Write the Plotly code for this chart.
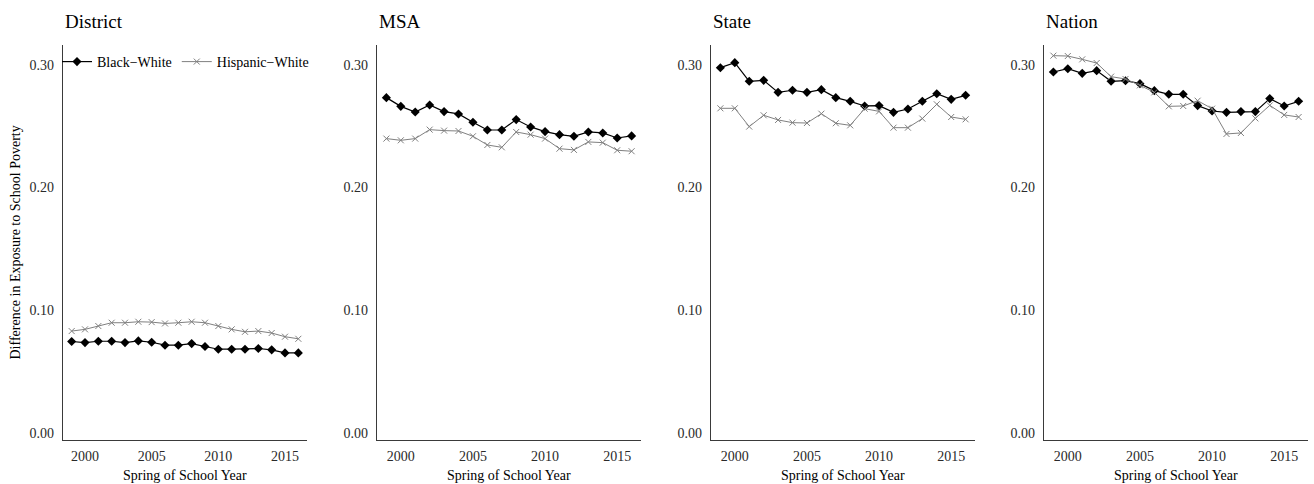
import plotly.graph_objects as go

years = list(range(1999, 2017))
panels = ["District", "MSA", "State", "Nation"]

district_black = [0.0743, 0.0734, 0.0745, 0.0745, 0.0734, 0.0748, 0.0737, 0.0713, 0.0713, 0.0726,
                  0.0702, 0.0680, 0.0680, 0.0680, 0.0686, 0.0675, 0.0650, 0.0650]
district_hisp = [0.0828, 0.0842, 0.0869, 0.0896, 0.0896, 0.0904, 0.0901, 0.0890, 0.0896, 0.0904,
                 0.0896, 0.0869, 0.0842, 0.0822, 0.0828, 0.0812, 0.0782, 0.0765]

msa_black = [0.2731, 0.2660, 0.2614, 0.2671, 0.2617, 0.2598, 0.2530, 0.2467, 0.2467, 0.2552,
             0.2492, 0.2454, 0.2429, 0.2416, 0.2451, 0.2443, 0.2402, 0.2419]
msa_hisp = [0.2397, 0.2383, 0.2397, 0.2470, 0.2462, 0.2459, 0.2416, 0.2345, 0.2326, 0.2451,
            0.2429, 0.2397, 0.2315, 0.2305, 0.2370, 0.2364, 0.2302, 0.2294]

state_black = [0.2975, 0.3016, 0.2864, 0.2872, 0.2774, 0.2791, 0.2774, 0.2796, 0.2731, 0.2701,
               0.2663, 0.2666, 0.2611, 0.2638, 0.2701, 0.2763, 0.2717, 0.2750]
state_hisp = [0.2644, 0.2644, 0.2495, 0.2587, 0.2549, 0.2527, 0.2524, 0.2600, 0.2522, 0.2505,
              0.2641, 0.2619, 0.2486, 0.2486, 0.2560, 0.2677, 0.2573, 0.2554]

nation_black = [0.2940, 0.2967, 0.2929, 0.2951, 0.2864, 0.2869, 0.2845, 0.2788, 0.2758, 0.2758,
                0.2666, 0.2622, 0.2611, 0.2617, 0.2617, 0.2723, 0.2663, 0.2701]
nation_hisp = [0.3073, 0.3070, 0.3043, 0.3013, 0.2902, 0.2883, 0.2831, 0.2774, 0.2660, 0.2663,
               0.2706, 0.2641, 0.2435, 0.2443, 0.2562, 0.2668, 0.2590, 0.2573]

black_series = [district_black, msa_black, state_black, nation_black]
hisp_series = [district_hisp, msa_hisp, state_hisp, nation_hisp]

y_ticks = [0.0, 0.1, 0.2, 0.3]
y_tick_text = ["0.00", "0.10", "0.20", "0.30"]
x_ticks = [2000, 2005, 2010, 2015]

W, H = 1314, 484
FONT = "Liberation Serif, Times New Roman, serif"

# subplot rectangles in pixels: (left, right)
panel_px = [(63, 307), (377, 641), (711, 975), (1044, 1308)]
top_px, bottom_px = 45, 440

fig = go.Figure()

for i, name in enumerate(panels):
    suffix = "" if i == 0 else str(i + 1)
    fig.add_trace(go.Scatter(
        x=years, y=black_series[i], mode="lines+markers", name="Black\u2212White",
        line=dict(color="black", width=1.2),
        marker=dict(symbol="diamond", size=7, color="black"),
        xaxis="x" + suffix, yaxis="y" + suffix, showlegend=(i == 0),
    ))
    fig.add_trace(go.Scatter(
        x=years, y=hisp_series[i], mode="lines+markers", name="Hispanic\u2212White",
        line=dict(color="#808080", width=1),
        marker=dict(symbol="x-thin", size=6, color="#808080", line=dict(width=1, color="#808080")),
        xaxis="x" + suffix, yaxis="y" + suffix, showlegend=(i == 0),
    ))

    l, r = panel_px[i]
    axis_common = dict(showgrid=False, zeroline=False, showline=True, linecolor="#3a3a3a",
                       linewidth=1.2, ticks="", tickfont=dict(family=FONT, size=14, color="#2a2a2a"))
    fig.layout["xaxis" + suffix] = dict(
        domain=[l / W, r / W], range=[1998.35, 2016.65], tickvals=x_ticks,
        anchor="y" + suffix, automargin=False, ticklabelstandoff=3, **axis_common)
    fig.layout["yaxis" + suffix] = dict(
        domain=[1 - bottom_px / H, 1 - top_px / H], range=[-0.006, 0.316],
        tickvals=y_ticks, ticktext=y_tick_text, ticklabelstandoff=5,
        anchor="x" + suffix, automargin=False, **axis_common)

    # panel title
    fig.add_annotation(text=name, x=l / W, y=1 - 21 / H, xref="paper", yref="paper",
                       xanchor="left", yanchor="middle", showarrow=False,
                       font=dict(family=FONT, size=19, color="black"))
    # x-axis title
    fig.add_annotation(text="Spring of School Year", x=(l + r) / 2 / W, y=1 - 475 / H,
                       xref="paper", yref="paper", xanchor="center", yanchor="middle",
                       showarrow=False, font=dict(family=FONT, size=14, color="black"))

fig.add_annotation(text="Difference in Exposure to School Poverty", x=15 / W,
                   y=1 - (top_px + bottom_px) / 2 / H, xref="paper", yref="paper",
                   xanchor="center", yanchor="middle", textangle=-90, showarrow=False,
                   font=dict(family=FONT, size=14, color="black"))

fig.update_layout(
    width=W, height=H, margin=dict(l=0, r=0, t=0, b=0),
    paper_bgcolor="white", plot_bgcolor="white",
    legend=dict(orientation="h", x=57 / W, y=1 - 62 / H, xanchor="left", yanchor="middle",
                font=dict(family=FONT, size=14, color="black"), bgcolor="rgba(0,0,0,0)",
                itemwidth=30, tracegroupgap=0),
)

fig.write_html("out.html")
